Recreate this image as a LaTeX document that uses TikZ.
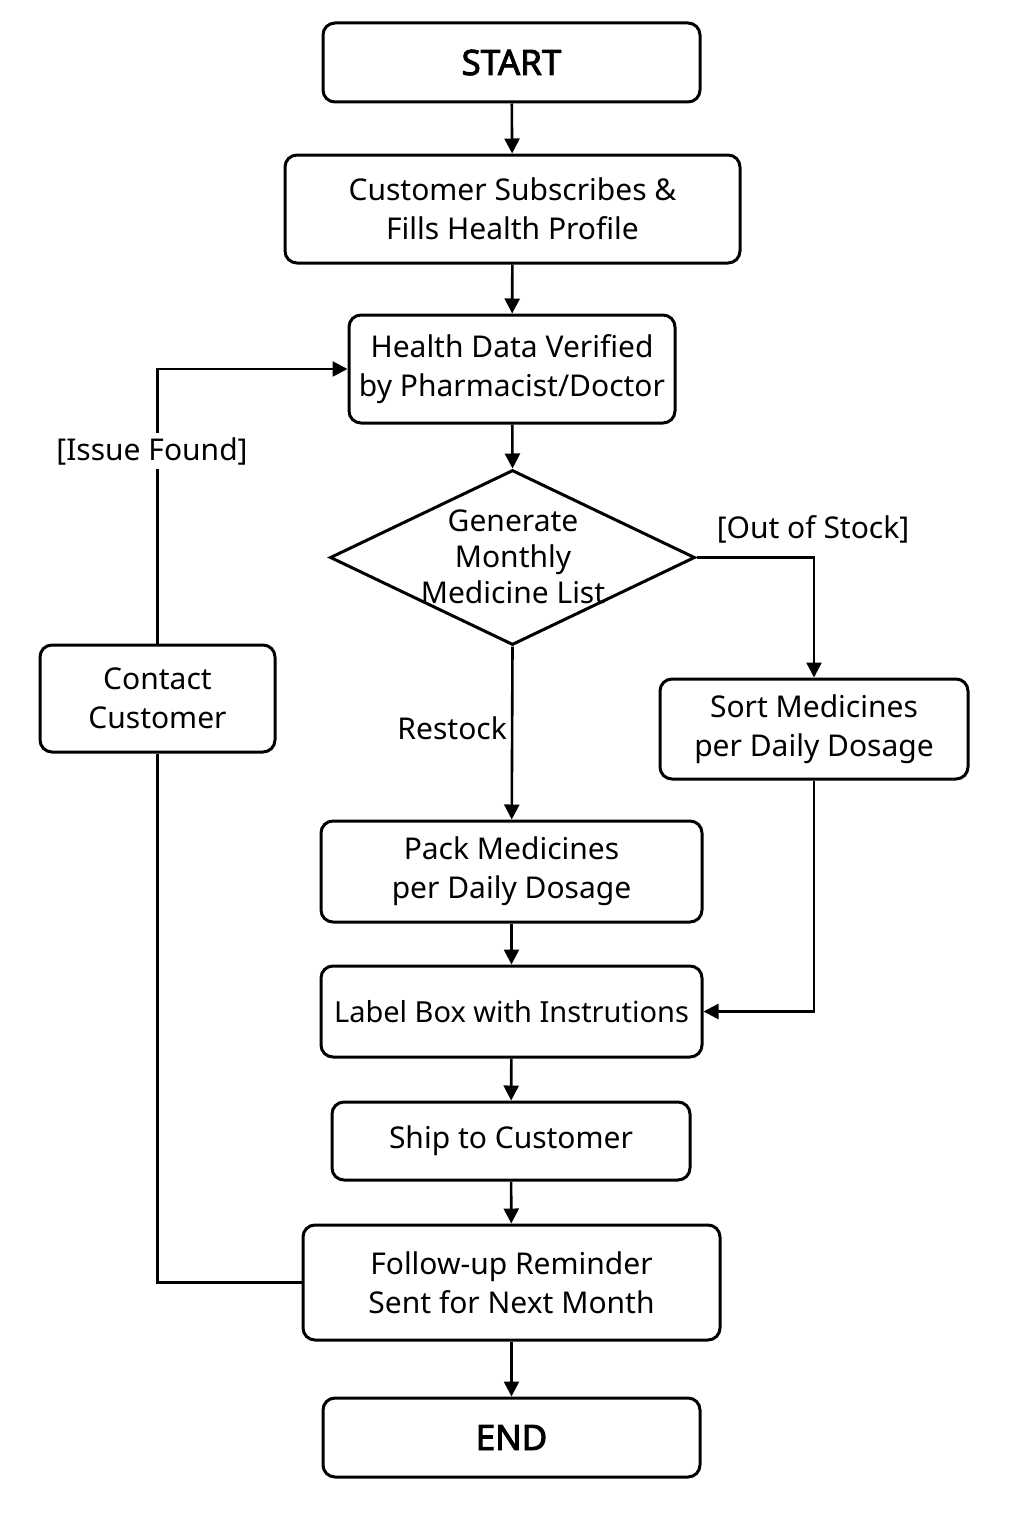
\documentclass[tikz,border=0pt]{standalone}
\usepackage{fontspec}
\setmainfont{Noto Sans}
\newfontfamily\boldnoto{Noto Sans}[FakeBold=2.5]
\usetikzlibrary{arrows.meta,shapes.geometric}
\begin{document}
\begin{tikzpicture}[x=0.5pt,y=-0.5pt,
 box/.style={draw, line width=1.5pt, rounded corners=6pt, align=center, font=\fontsize{15}{19.5}\selectfont, inner sep=0pt},
 term/.style={box, minimum width=188.5pt, minimum height=39.5pt, font=\boldnoto\fontsize{17.5}{20}\selectfont},
 arr/.style={-{Triangle[length=7.5pt,width=7.5pt]}, line width=1.3pt},
 ln/.style={line width=1.3pt},
 lbl/.style={font=\fontsize{15}{19.5}\selectfont, inner sep=2pt}]
\useasboundingbox (0,0) rectangle (1024,1536);
\node[term] (start) at (511.5,62.5) {START};
\node[box, minimum width=227.5pt, minimum height=54pt] (sub) at (512.5,209) {Customer Subscribes \&\\Fills Health Profile};
\node[box, minimum width=163pt, minimum height=54pt] (ver) at (512,369) {Health Data Verified\\by Pharmacist/Doctor};
\node[diamond, draw, line width=1.5pt, minimum width=182.5pt, minimum height=87.5pt, inner sep=0pt] (dia) at (512.5,557.5) {};
\node[lbl, align=center, font=\fontsize{15}{18}\selectfont] (diat) at (513,557) {Generate\\Monthly\\Medicine List};
\node[box, minimum width=117.5pt, minimum height=53.5pt] (con) at (157.5,698.5) {Contact\\Customer};
\node[box, minimum width=154pt, minimum height=50pt] (sort) at (814,729) {Sort Medicines\\per Daily Dosage};
\node[box, minimum width=190.5pt, minimum height=50.5pt] (pack) at (511.5,871.5) {Pack Medicines\\per Daily Dosage};
\node[box, minimum width=190.5pt, minimum height=45.5pt] (lab) at (511.5,1011.5) {\fontsize{14.5}{17}\selectfont Label Box with Instrutions};
\node[box, minimum width=179pt, minimum height=39pt] (ship) at (511,1141) {Ship to Customer};
\node[box, minimum width=208.5pt, minimum height=57.5pt] (fol) at (511.5,1282.5) {Follow-up Reminder\\Sent for Next Month};
\node[term] (end) at (511.5,1437.5) {END};

\draw[arr] (start) -- (sub);
\draw[arr] (sub) -- (ver);
\draw[arr] (ver) -- (dia.north);
\draw[arr] (dia.south) -- (pack) node[lbl, pos=0.47, left] (rs) {Restock};
\draw[arr] (pack) -- (lab);
\draw[arr] (lab) -- (ship);
\draw[arr] (ship) -- (fol);
\draw[arr] (fol) -- (end);
\draw[arr] (dia.east) -| (sort.north);
\node[lbl] (oos) at (813,529) {[Out of Stock]};
\draw[arr] (sort.south) |- (lab.east);
\draw[ln] (fol.west) -| (con.south);
\draw[arr] (con.north) |- (ver.west);
\node[lbl, fill=white] (iss) at (152,451) {[Issue Found]};
\end{tikzpicture}
\end{document}
